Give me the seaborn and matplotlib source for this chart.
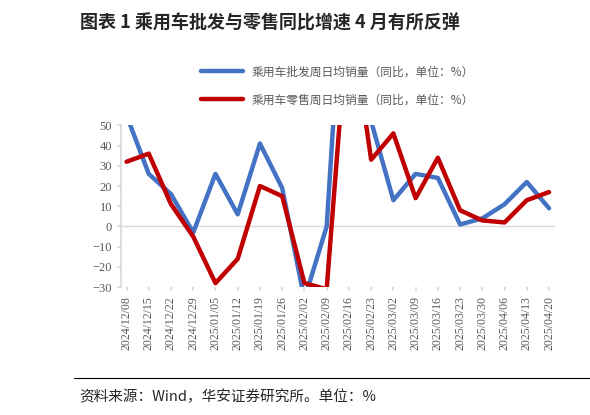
import matplotlib
matplotlib.use("Agg")
import matplotlib.pyplot as plt
import seaborn as sns
import pandas as pd

dates = ["2024/12/08","2024/12/15","2024/12/22","2024/12/29","2025/01/05","2025/01/12","2025/01/19","2025/01/26",
         "2025/02/02","2025/02/09","2025/02/16","2025/02/23","2025/03/02","2025/03/09","2025/03/16","2025/03/23",
         "2025/03/30","2025/04/06","2025/04/13","2025/04/20"]
wholesale = [55, 26, 16, -3, 26, 6, 41, 19, -36, 0, 172, 52, 13, 26, 24, 1, 4, 11, 22, 9]
retail = [32, 36, 11, -5, -28, -16, 20, 15, -28, -31, 110, 33, 46, 14, 34, 8, 3, 2, 13, 17]
name_w = "乘用车批发周日均销量（同比，单位：%）"
name_r = "乘用车零售周日均销量（同比，单位：%）"

sns.set_theme(style="white")
plt.rcParams['font.family'] = ['Noto Sans CJK SC', 'DejaVu Sans']

df = pd.DataFrame({"x": list(range(len(dates))) * 2,
                   "v": wholesale + retail,
                   "s": [name_w] * len(dates) + [name_r] * len(dates)})

fig = plt.figure(figsize=(5.9, 4.15), dpi=100)
ax = fig.add_axes([0.205, 0.308, 0.735, 0.39])
sns.lineplot(data=df, x="x", y="v", hue="s", palette=["#4472C4", "#C00000"], linewidth=3.2, ax=ax)
ax.set_ylim(-30, 50)
ax.set_xlim(-0.25, len(dates) - 0.75)
ax.set_yticks(range(-30, 51, 10))
ax.set_xticks(range(len(dates)))
ax.set_xticklabels(dates, rotation=90, fontsize=8.5, color="#595959", family=["Liberation Serif"])
for t in ax.get_yticklabels():
    t.set_fontfamily("Liberation Serif")
ax.tick_params(axis='y', labelsize=9, colors="#595959", length=3, left=True)
ax.tick_params(axis='x', length=3, bottom=True, color="#d9d9d9")
ax.set_xlabel(""); ax.set_ylabel("")
for s in ["top", "right", "bottom"]:
    ax.spines[s].set_visible(False)
ax.spines["left"].set_color("#d9d9d9")
ax.axhline(0, color="#d9d9d9", linewidth=1, zorder=0)
ax.tick_params(axis='y', color="#d9d9d9")
ax.legend(loc="lower center", bbox_to_anchor=(0.5, 1.05), frameon=False, fontsize=8.5,
          labelcolor="#595959", handlelength=3.5, ncol=1, labelspacing=1.3)

fig.text(0.135, 0.945, "图表 1 乘用车批发与零售同比增速 4 月有所反弹", fontsize=13, fontweight="bold", va="center")
fig.add_artist(plt.Line2D([0.125, 1.0], [0.09, 0.09], color="black", linewidth=0.8))
fig.text(0.135, 0.045, "资料来源：Wind，华安证券研究所。单位：%", fontsize=10.5, va="center")
fig.savefig("out.png", dpi=100)
